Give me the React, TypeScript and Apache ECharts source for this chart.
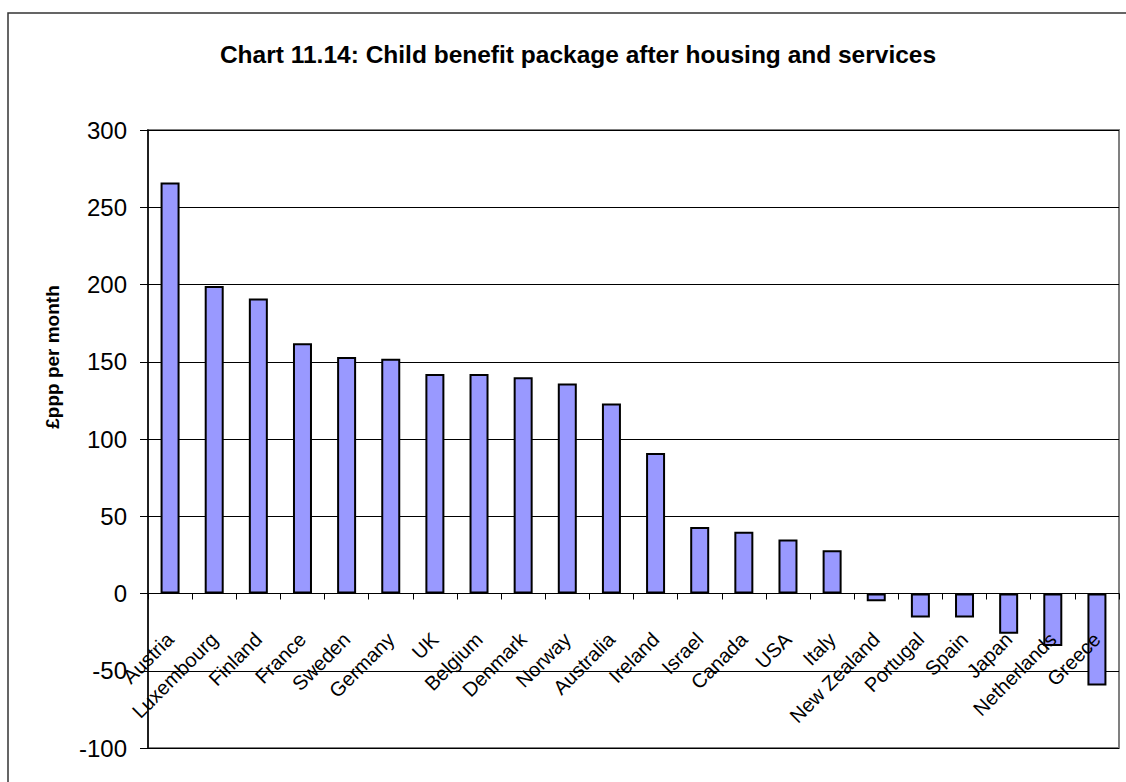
import React, { useEffect, useRef } from "react";
import * as echarts from "echarts";

const countries = [
  "Austria", "Luxembourg", "Finland", "France", "Sweden", "Germany", "UK",
  "Belgium", "Denmark", "Norway", "Australia", "Ireland", "Israel", "Canada",
  "USA", "Italy", "New Zealand", "Portugal", "Spain", "Japan", "Netherlands", "Greece",
];
const values = [
  266, 199, 191, 162, 153, 152, 142, 142, 140, 136, 123, 91, 43, 40, 35, 28,
  -5, -15.5, -15.5, -26, -34, -59.5,
];
const chartTitle = "Chart 11.14: Child benefit package after housing and services";
const yTitle = "£ppp per month";
const yMin = -100;
const yMax = 300;
const yStep = 50;

const FONT = 'Arial, "Liberation Sans", sans-serif';

export default function App() {
  const ref = useRef<HTMLDivElement>(null);
  useEffect(() => {
    if (!ref.current) return;
    const chart = echarts.init(ref.current, undefined, { renderer: "svg" });
    chart.setOption({
      animation: false,
      backgroundColor: "#ffffff",
      title: {
        text: chartTitle,
        left: 573,
        top: 37,
        textAlign: "center",
        textStyle: { fontFamily: FONT, fontSize: 24.5, fontWeight: "bold", color: "#000" },
      },
      graphic: [
        {
          type: "rect",
          shape: { x: 8, y: 13, width: 1300, height: 900 },
          style: { fill: "none", stroke: "#333", lineWidth: 1.5 },
          silent: true,
        },
        {
          type: "text",
          x: 52,
          y: 357,
          rotation: Math.PI / 2,
          style: {
            text: yTitle,
            fontFamily: FONT,
            fontSize: 19,
            fontWeight: "bold",
            fill: "#000",
            align: "center",
            verticalAlign: "middle",
          },
        },
      ],
      grid: {
        left: 148,
        top: 130,
        right: 7,
        bottom: 34,
        containLabel: false,
        outerBoundsMode: "none",
        show: true,
        borderColor: "#808080",
        borderWidth: 2,
        backgroundColor: "#fff",
      },
      xAxis: {
        type: "category",
        data: countries,
        z: 5,
        axisLine: { onZero: true, lineStyle: { color: "#000", width: 1 } },
        axisTick: { show: true, length: 6, lineStyle: { color: "#000" } },
        axisLabel: {
          interval: 0,
          rotate: 45,
          margin: -112,
          fontFamily: FONT,
          fontSize: 20,
          color: "#000",
        },
        splitLine: { show: false },
      },
      yAxis: {
        type: "value",
        min: yMin,
        max: yMax,
        interval: yStep,
        axisLine: { show: true, lineStyle: { color: "#000", width: 1.5 } },
        axisTick: { show: true, length: 8, lineStyle: { color: "#000" } },
        axisLabel: { margin: 21, fontFamily: FONT, fontSize: 24, color: "#000" },
        splitLine: { show: true, lineStyle: { color: "#000", width: 1 } },
      },
      series: [
        {
          type: "bar",
          data: values,
          barWidth: 19,
          itemStyle: { color: "#9999FF", borderColor: "#000", borderWidth: 2 },
        },
      ],
    });
    return () => chart.dispose();
  }, []);
  return (
    <div
      ref={ref}
      style={{ position: "fixed", left: 0, top: 0, width: 1126, height: 782 }}
    />
  );
}
